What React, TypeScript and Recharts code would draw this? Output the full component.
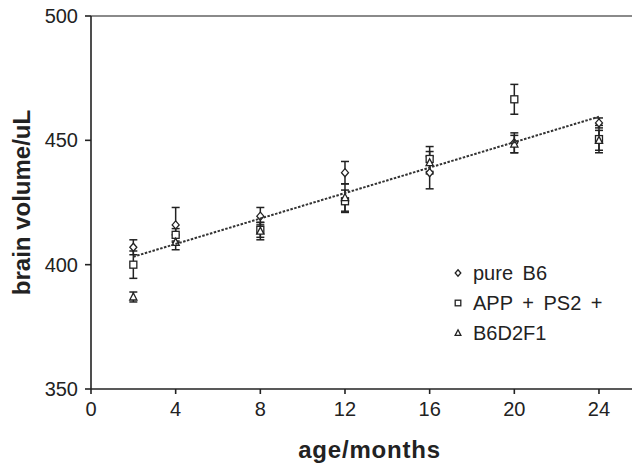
import { Legend, ReferenceLine, Scatter, ScatterChart, XAxis, YAxis, ErrorBar } from 'recharts';

const ages = [2, 4, 8, 12, 16, 20, 24];

const pureB6 = [407, 416, 419.5, 437, 437, 449, 457];
const pureB6Err = [3, 7, 3.5, 4.5, 6.5, 4, 2];

const appPs2 = [400, 412, 414, 425.5, 442.5, 466.5, 450.5];
const appPs2Err = [5.5, 2.5, 3, 4.5, 5, 6, 5.5];

const b6d2f1 = [387, 409, 413.5, 427, 441, 448.5, 450];
const b6d2f1Err = [2, 3, 3.5, 5.5, 4.5, 3.5, 4];

// fitted line, read at its two ends
const trendAges = [2, 24];
const trendValues = [403.2, 459.5];

const xTicks = [0, 4, 8, 12, 16, 20, 24];
const yTicks = [350, 400, 450, 500];

const toPoints = (values: number[], errs: number[]) =>
  ages.map((age, i) => ({ age, volume: values[i], err: errs[i] }));

const trend = trendAges.map((age, i) => ({ age, volume: trendValues[i] }));

const font = '"Liberation Sans", Arial, Helvetica, sans-serif';
const ink = '#222';

function Diamond({ cx, cy, s = 1 }: any) {
  return <path d={`M${cx},${cy - 4 * s}L${cx + 3.5 * s},${cy}L${cx},${cy + 4 * s}L${cx - 3.5 * s},${cy}Z`} fill="#fff" stroke={ink} strokeWidth={1.3} />;
}

function Square({ cx, cy, s = 1 }: any) {
  return <rect x={cx - 3.5 * s} y={cy - 3.5 * s} width={7 * s} height={7 * s} fill="#fff" stroke={ink} strokeWidth={1.3} />;
}

function Triangle({ cx, cy, s = 1 }: any) {
  return <path d={`M${cx},${cy - 4 * s}L${cx + 3.6 * s},${cy + 3 * s}L${cx - 3.6 * s},${cy + 3 * s}Z`} fill="#fff" stroke={ink} strokeWidth={1.3} />;
}

const series = [
  { name: 'pure B6', data: toPoints(pureB6, pureB6Err), Shape: Diamond },
  { name: 'APP + PS2 +', data: toPoints(appPs2, appPs2Err), Shape: Square },
  { name: 'B6D2F1', data: toPoints(b6d2f1, b6d2f1Err), Shape: Triangle },
];

function LegendBox() {
  return (
    <div style={{ fontFamily: font, fontSize: 20, color: ink, lineHeight: '30px' }}>
      {series.map(({ name, Shape }) => (
        <div key={name} style={{ display: 'flex', alignItems: 'center' }}>
          <svg width={16} height={16} style={{ marginRight: 7 }}>
            <Shape cx={8} cy={8} s={0.8} />
          </svg>
          <span style={{ wordSpacing: 4 }}>{name}</span>
        </div>
      ))}
    </div>
  );
}

export default function App() {
  return (
    <div style={{ position: 'absolute', left: 0, top: 0, width: 632, height: 463, background: '#fff' }}>
      <ScatterChart width={632} height={463} margin={{ top: 16, right: 0, bottom: 0, left: 0 }}>
        <XAxis
          type="number"
          dataKey="age"
          domain={[0, 25.56]}
          ticks={xTicks}
          allowDataOverflow
          height={74}
          tickSize={5}
          tickMargin={8}
          stroke={ink}
          strokeWidth={1.6}
          tick={{ fill: ink, fontSize: 20, fontFamily: font }}
          label={{ value: 'age/months', position: 'insideBottom', offset: 5, dx: 8, fill: ink, fontSize: 24, fontWeight: 'bold', fontFamily: font, letterSpacing: 0.8 }}
        />
        <YAxis
          type="number"
          dataKey="volume"
          domain={[350, 500]}
          ticks={yTicks}
          width={91}
          tickSize={6}
          tickMargin={7}
          stroke={ink}
          strokeWidth={1.6}
          tick={{ fill: ink, fontSize: 20, fontFamily: font }}
          label={{ value: 'brain volume/uL', angle: -90, position: 'insideLeft', offset: 21, style: { textAnchor: 'middle' }, fill: ink, fontSize: 24, fontWeight: 'bold', fontFamily: font }}
        />
        <ReferenceLine y={500} stroke="#8a8a8a" strokeWidth={2} />
        {series.map(({ name, data, Shape }) => (
          <Scatter key={name} name={name} data={data} shape={<Shape />} isAnimationActive={false}>
            <ErrorBar dataKey="err" direction="y" width={4} stroke={ink} strokeWidth={1.5} />
          </Scatter>
        ))}
        <Scatter
          data={trend}
          line={{ stroke: '#333', strokeWidth: 2, strokeDasharray: '2.5 1.5' }}
          shape={() => <g />}
          legendType="none"
          isAnimationActive={false}
        />
        <Legend
          layout="vertical"
          align="center"
          verticalAlign="middle"
          content={() => <LegendBox />}
          wrapperStyle={{ left: 450, top: 258, width: 'auto' }}
        />
      </ScatterChart>
    </div>
  );
}
